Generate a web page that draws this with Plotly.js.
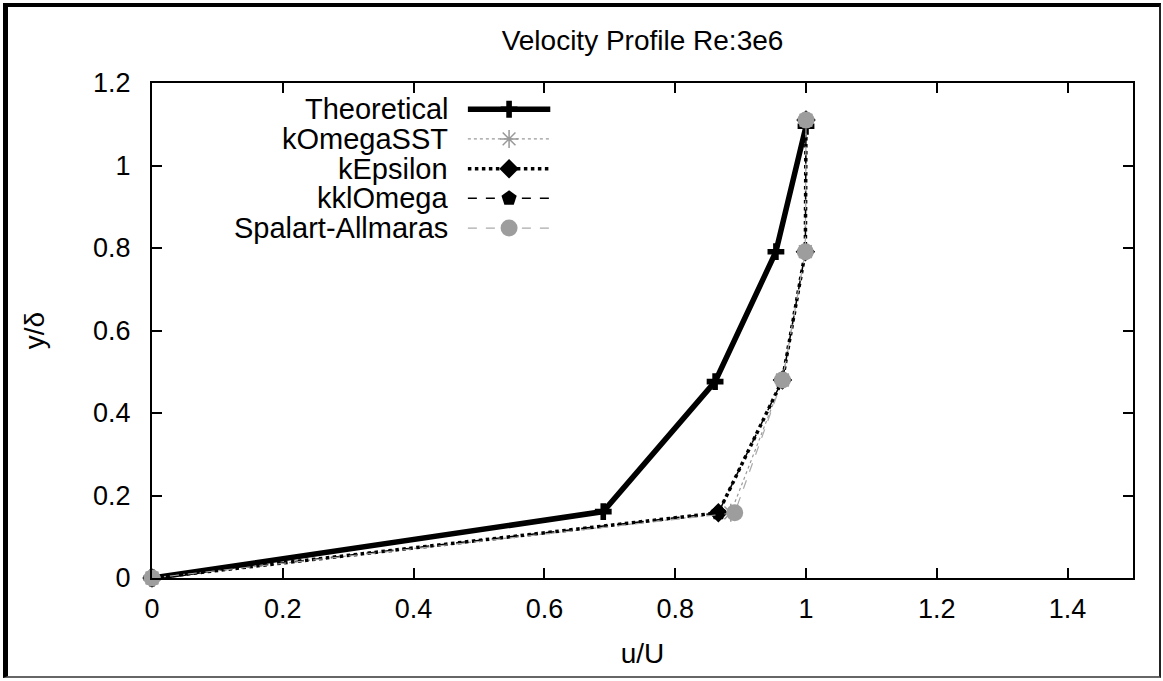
<!DOCTYPE html>
<html>
<head>
<meta charset="utf-8">
<script src="https://cdn.plot.ly/plotly-3.0.1.min.js"></script>
<style>
  html, body { margin: 0; padding: 0; background: #fff; }
  #wrap { position: relative; width: 1163px; height: 681px; }
  #chart { position: absolute; left: 0; top: 0; width: 1163px; height: 681px; }
  #frame { position: absolute; left: 3px; top: 3px; width: 1158px; height: 675px; box-sizing: border-box;
           border-left: 5px solid #000; border-top: 4px solid #000; border-right: 2px solid #222; border-bottom: 2px solid #666;
           pointer-events: none; }
</style>
</head>
<body>
<div id="wrap">
  <div id="chart"></div>
  <div id="frame"></div>
</div>
<script>
// ---- data ----
const seriesNames = ["Theoretical", "kOmegaSST", "kEpsilon", "kklOmega", "Spalart-Allmaras"];

const theoreticalX = [0, 0.69, 0.861, 0.954, 1.0];
const theoreticalY = [0, 0.161, 0.476, 0.791, 1.095];

const kOmegaSSTX = [0, 0.885, 0.964, 0.999, 1.0];
const kOmegaSSTY = [0, 0.158, 0.480, 0.791, 1.11];

const kEpsilonX = [0, 0.866, 0.964, 0.999, 1.0];
const kEpsilonY = [0, 0.158, 0.480, 0.791, 1.11];

const kklOmegaX = [0, 0.866, 0.964, 0.999, 1.0];
const kklOmegaY = [0, 0.158, 0.480, 0.791, 1.11];

const spalartX = [0, 0.891, 0.964, 0.999, 1.0];
const spalartY = [0, 0.158, 0.480, 0.791, 1.11];

const xTicks = [0, 0.2, 0.4, 0.6, 0.8, 1, 1.2, 1.4];
const yTicks = [0, 0.2, 0.4, 0.6, 0.8, 1, 1.2];

// ---- styles ----
const FONT = "Liberation Sans, Arial, sans-serif";
const styles = [
  { line: { color: "#000", width: 5.5, dash: "solid" }, marker: { symbol: "cross", size: 14, color: "#000" } },
  { line: { color: "#9a9a9a", width: 1.2, dash: "dot" }, marker: { symbol: "asterisk-open", size: 15, color: "#999", line: { color: "#999", width: 1.5 } } },
  { line: { color: "#000", width: 3.5, dash: "dot" }, marker: { symbol: "diamond", size: 15, color: "#000" } },
  { line: { color: "#000", width: 1.5, dash: "dash" }, marker: { symbol: "pentagon", size: 16, color: "#000" } },
  { line: { color: "#aaa", width: 1.2, dash: "dash" }, marker: { symbol: "circle", size: 17, color: "#9d9d9d" } }
];
const xs = [theoreticalX, kOmegaSSTX, kEpsilonX, kklOmegaX, spalartX];
const ys = [theoreticalY, kOmegaSSTY, kEpsilonY, kklOmegaY, spalartY];

const traces = [];
for (let i = 0; i < seriesNames.length; i++) {
  traces.push({
    type: "scatter", mode: "lines+markers", name: seriesNames[i],
    x: xs[i], y: ys[i],
    line: styles[i].line, marker: styles[i].marker,
    cliponaxis: false, showlegend: false, hoverinfo: "x+y+name"
  });
}

// ---- custom legend (text on the left, sample on the right), in overlay axes 0..1 ----
const legTextX = 0.304;
const legSampleX0 = 0.322, legSampleX1 = 0.406, legMarkX = 0.364;
const legTop = 0.947, legStep = 0.0600;
const annotations = [];
for (let i = 0; i < seriesNames.length; i++) {
  const yy = legTop - i * legStep;
  traces.push({
    type: "scatter", mode: "lines", x: [legSampleX0, legSampleX1], y: [yy, yy],
    xaxis: "x2", yaxis: "y2", line: styles[i].line, showlegend: false, hoverinfo: "skip"
  });
  traces.push({
    type: "scatter", mode: "markers", x: [legMarkX], y: [yy],
    xaxis: "x2", yaxis: "y2", marker: styles[i].marker, showlegend: false, hoverinfo: "skip", cliponaxis: false
  });
  annotations.push({
    xref: "paper", yref: "paper", x: legTextX, y: yy, xanchor: "right", yanchor: "middle",
    text: seriesNames[i], showarrow: false, font: { family: FONT, size: 29, color: "#000" }
  });
}

const axisCommon = {
  showline: true, linecolor: "#000", linewidth: 2, mirror: "ticks",
  ticks: "inside", ticklen: 10, tickwidth: 2, tickcolor: "#000",
  showgrid: false, zeroline: false,
  tickfont: { family: FONT, size: 27, color: "#000" }
};

const layout = {
  width: 1163, height: 681,
  margin: { l: 152, r: 30, t: 83, b: 103 },
  paper_bgcolor: "#fff", plot_bgcolor: "#fff",
  showlegend: false,
  title: { text: "Velocity Profile Re:3e6", font: { family: FONT, size: 28, color: "#000" },
           x: 0.5, xref: "paper", xanchor: "center", y: 0.941, yref: "container", yanchor: "middle" },
  xaxis: Object.assign({}, axisCommon, {
    range: [0, 1.5], tickvals: xTicks, ticklabelstandoff: 6,
    title: { text: "u/U", font: { family: FONT, size: 28, color: "#000" }, standoff: 20 }
  }),
  yaxis: Object.assign({}, axisCommon, {
    range: [0, 1.2], tickvals: yTicks, ticklabelstandoff: 14,
    title: { text: "y/δ", font: { family: FONT, size: 28, color: "#000" }, standoff: 40 }
  }),
  xaxis2: { overlaying: "x", range: [0, 1], visible: false, fixedrange: true },
  yaxis2: { overlaying: "y", range: [0, 1], visible: false, fixedrange: true },
  annotations: annotations
};

Plotly.newPlot("chart", traces, layout, { displayModeBar: false, staticPlot: true });
</script>
</body>
</html>
